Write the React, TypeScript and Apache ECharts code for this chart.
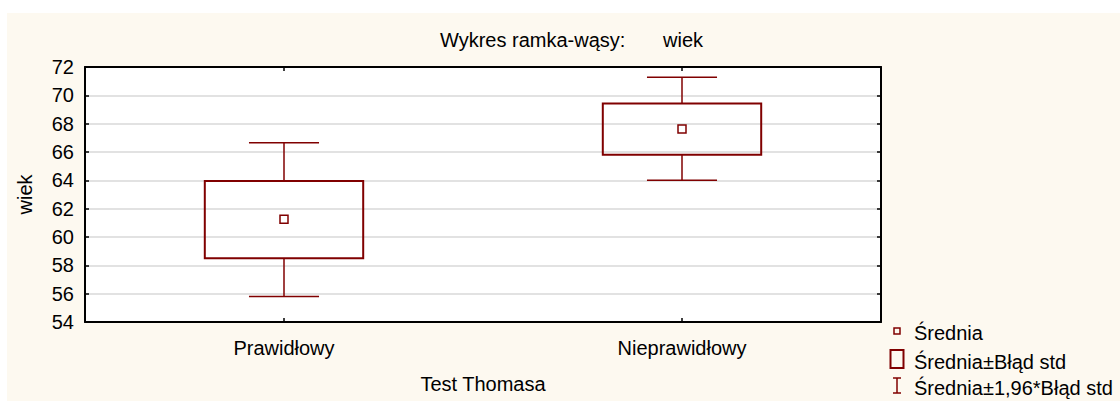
import React, { useEffect, useRef } from "react";
import * as echarts from "echarts";

const categories = ["Prawidłowy", "Nieprawidłowy"];
const means = [61.25, 67.62];
const boxLow = [58.5, 65.8];
const boxHigh = [63.95, 69.43];
const whiskerLow = [55.8, 64.0];
const whiskerHigh = [66.65, 71.27];
const yTicks = { min: 54, max: 72, interval: 2 };

const titleLeft = "Wykres ramka-wąsy:";
const titleRight = "wiek";
const yName = "wiek";
const xName = "Test Thomasa";
const legendLabels = ["Średnia", "Średnia±Błąd std", "Średnia±1,96*Błąd std"];

const RED = "#800000";
const FONT = "Liberation Sans, Arial, sans-serif";

export default function App() {
  const ref = useRef<HTMLDivElement>(null);
  useEffect(() => {
    const chart = echarts.init(ref.current!, null, { renderer: "svg" });
    const data = categories.map((c, i) => [i, whiskerLow[i], boxLow[i], means[i], boxHigh[i], whiskerHigh[i]]);
    const lx = 897;
    const option: any = {
      animation: false,
      backgroundColor: "#ffffff",
      textStyle: { fontFamily: FONT },
      grid: {
        left: 85, top: 67, width: 796, height: 255,
        show: true, backgroundColor: "#ffffff", borderColor: "#000", borderWidth: 0,
      },
      graphic: [
        { type: "rect", z: -10, silent: true, shape: { x: 7, y: 13, width: 1113, height: 388 }, style: { fill: "#fdf9f0" } },
        { type: "text", x: 440, y: 40, style: { text: titleLeft, fontSize: 20, fontFamily: FONT, fill: "#000", verticalAlign: "middle" } },
        { type: "text", x: 663, y: 40, style: { text: titleRight, fontSize: 20, fontFamily: FONT, fill: "#000", verticalAlign: "middle" } },
        { type: "rect", shape: { x: lx - 3, y: 328, width: 6, height: 6 }, style: { fill: "none", stroke: RED, lineWidth: 1.5 } },
        { type: "rect", shape: { x: lx - 6.5, y: 350, width: 13, height: 18 }, style: { fill: "none", stroke: RED, lineWidth: 2 } },
        { type: "line", shape: { x1: lx, y1: 378, x2: lx, y2: 393 }, style: { stroke: RED, lineWidth: 1.5 } },
        { type: "line", shape: { x1: lx - 4, y1: 378, x2: lx + 4, y2: 378 }, style: { stroke: RED, lineWidth: 1.5 } },
        { type: "line", shape: { x1: lx - 4, y1: 393, x2: lx + 4, y2: 393 }, style: { stroke: RED, lineWidth: 1.5 } },
        ...legendLabels.map((t, i) => ({
          type: "text", x: 914, y: [333, 362, 388][i],
          style: { text: t, fontSize: 20, fontFamily: FONT, fill: "#000", verticalAlign: "middle" },
        })),
      ],
      xAxis: [
        {
          type: "category", data: categories, boundaryGap: true,
          name: xName, nameLocation: "middle", nameGap: 52,
          nameTextStyle: { fontSize: 20, color: "#000", fontFamily: FONT },
          axisLine: { show: true, lineStyle: { color: "#000", width: 2 } },
          axisTick: { show: true, inside: true, alignWithLabel: true, length: 4, lineStyle: { color: "#000", width: 1.5 } },
          axisLabel: { fontSize: 20, color: "#000", margin: 16, fontFamily: FONT },
          splitLine: { show: false },
        },
        {
          type: "category", data: categories, boundaryGap: true, position: "top",
          axisLine: { show: true, lineStyle: { color: "#000", width: 2 } },
          axisTick: { show: true, inside: true, alignWithLabel: true, length: 4, lineStyle: { color: "#000", width: 1.5 } },
          axisLabel: { show: false },
          splitLine: { show: false },
        },
      ],
      yAxis: [
        {
          type: "value", min: yTicks.min, max: yTicks.max, interval: yTicks.interval,
          name: yName, nameLocation: "middle", nameGap: 50, nameRotate: 90,
          nameTextStyle: { fontSize: 20, color: "#000", fontFamily: FONT },
          axisLine: { show: true, lineStyle: { color: "#000", width: 2 } },
          axisTick: { show: true, inside: true, length: 4, lineStyle: { color: "#000", width: 1.5 } },
          axisLabel: { fontSize: 20, color: "#000", margin: 11, fontFamily: FONT },
          splitLine: { show: true, lineStyle: { color: "#d9d9d9", width: 1.5 } },
        },
        {
          type: "value", min: yTicks.min, max: yTicks.max, interval: yTicks.interval, position: "right",
          axisLine: { show: true, lineStyle: { color: "#000", width: 2 } },
          axisTick: { show: true, inside: true, length: 4, lineStyle: { color: "#000", width: 1.5 } },
          axisLabel: { show: false },
          splitLine: { show: false },
        },
      ],
      series: [
        {
          type: "custom",
          xAxisIndex: 0, yAxisIndex: 0,
          data,
          renderItem: (params: any, api: any) => {
            const xi = api.value(0);
            const pWl = api.coord([xi, api.value(1)]);
            const pBl = api.coord([xi, api.value(2)]);
            const pM = api.coord([xi, api.value(3)]);
            const pBh = api.coord([xi, api.value(4)]);
            const pWh = api.coord([xi, api.value(5)]);
            const band = api.size([1, 0])[0];
            const bw = band * 0.398;
            const cw = band * 0.176;
            const cx = pM[0];
            const ls = { stroke: RED, lineWidth: 1.5, fill: "none" };
            return {
              type: "group",
              children: [
                { type: "line", shape: { x1: cx, y1: pWh[1], x2: cx, y2: pBh[1] }, style: ls },
                { type: "line", shape: { x1: cx, y1: pBl[1], x2: cx, y2: pWl[1] }, style: ls },
                { type: "line", shape: { x1: cx - cw / 2, y1: pWh[1], x2: cx + cw / 2, y2: pWh[1] }, style: ls },
                { type: "line", shape: { x1: cx - cw / 2, y1: pWl[1], x2: cx + cw / 2, y2: pWl[1] }, style: ls },
                { type: "rect", shape: { x: cx - bw / 2, y: pBh[1], width: bw, height: pBl[1] - pBh[1] }, style: { stroke: RED, lineWidth: 2, fill: "none" } },
                { type: "rect", shape: { x: cx - 4, y: pM[1] - 4, width: 8, height: 8 }, style: { stroke: RED, lineWidth: 1.5, fill: "none" } },
              ],
            };
          },
        },
      ],
    };
    chart.setOption(option);
    return () => chart.dispose();
  }, []);
  return <div ref={ref} style={{ position: "absolute", left: 0, top: 0, width: 1120, height: 401 }} />;
}
